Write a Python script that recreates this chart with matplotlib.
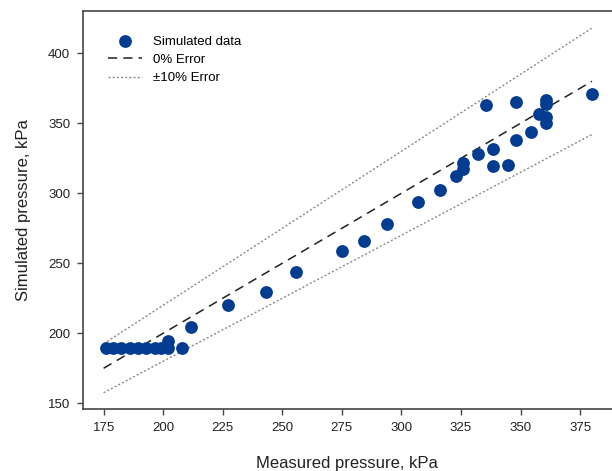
import matplotlib
matplotlib.use("Agg")
import matplotlib.pyplot as plt
import numpy as np

plt.rcParams['font.family'] = ['Liberation Sans', 'DejaVu Sans']

measured = [176, 179, 182.5, 186, 189.5, 193, 196.5, 199.3, 202, 202, 208, 211.5,
            227.3, 243.2, 255.7, 274.9, 284.4, 294.1, 306.9, 316.2, 322.8, 326.0,
            325.7, 332.3, 338.6, 338.6, 344.9, 348.1, 335.5, 348.1, 360.7, 360.7,
            357.8, 360.9, 360.9, 354.4, 379.9]
simulated = [189.5, 189.5, 189.5, 189.5, 189.5, 189.5, 189.5, 189.5, 189.5, 194.5, 189.5, 204.5,
             220.2, 229.3, 244.0, 258.8, 266.1, 277.9, 294.0, 302.1, 312.6, 321.4,
             317.1, 327.9, 331.6, 319.5, 320.2, 338.1, 362.9, 365.0, 366.8, 363.8,
             356.4, 354.7, 350.0, 344.0, 370.7]
ref_range = [175, 380]
xticks = [175, 200, 225, 250, 275, 300, 325, 350, 375]
yticks = [150, 200, 250, 300, 350, 400]

fig = plt.figure(figsize=(6.12, 4.71), dpi=100)
ax = fig.add_axes([0.135, 0.1316, 0.865, 0.845])

xr = np.array(ref_range, dtype=float)
ax.scatter(measured, simulated, s=85, color='#043C91', zorder=3, label='Simulated data',
           linewidths=0)
ax.plot(xr, xr, color='#222222', linestyle=(0, (6, 4)), linewidth=1.1, label='0% Error', zorder=2)
ax.plot(xr, xr * 1.1, color='#8a8a8a', linestyle=(0, (1.5, 1.5)), linewidth=1.0,
        label='±10% Error', zorder=2)
ax.plot(xr, xr * 0.9, color='#8a8a8a', linestyle=(0, (1.5, 1.5)), linewidth=1.0, zorder=2)

ax.set_xlim(166.2, 388.4)
ax.set_ylim(145.9, 430.2)
ax.set_xticks(xticks)
ax.set_yticks(yticks)

for s in ['left', 'bottom', 'top']:
    ax.spines[s].set_color('#4a4444')
    ax.spines[s].set_linewidth(1.2)
ax.spines['right'].set_visible(False)
ax.tick_params(direction='out', length=4, width=1, color='#4a4444', labelsize=9.5,
               labelcolor='#222222', pad=5)

ax.set_xlabel('Measured pressure, kPa', fontsize=12, color='#222222', labelpad=16)
ax.set_ylabel('Simulated pressure, kPa', fontsize=12, color='#222222', labelpad=12)

ax.legend(loc='upper left', bbox_to_anchor=(0.025, 0.968), frameon=False, fontsize=9.5,
          handlelength=2.6, handletextpad=0.8, labelspacing=0.45, borderaxespad=0.5,
          scatterpoints=1)

fig.savefig('out.png', dpi=100)
